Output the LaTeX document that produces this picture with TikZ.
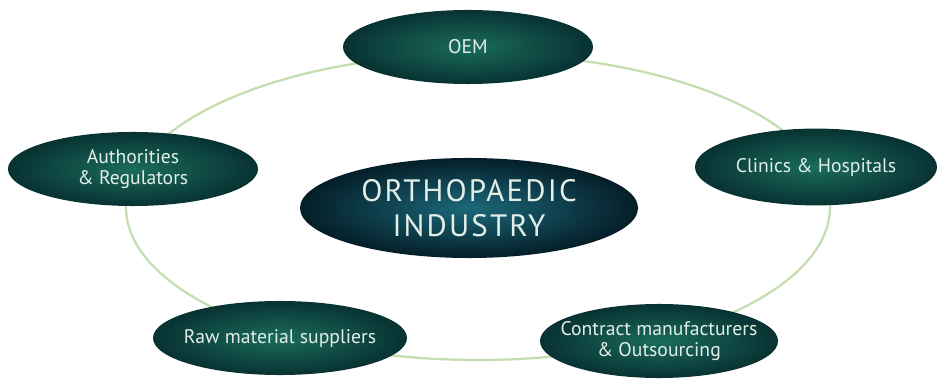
\documentclass[tikz,border=0pt]{standalone}
\usepackage{fontspec}
\setmainfont{PT Sans}
\usetikzlibrary{shapes}
\definecolor{ringgreen}{RGB}{196,222,176}
\definecolor{tealdark}{RGB}{8,50,50}
\definecolor{teallight}{RGB}{26,108,92}
\definecolor{bluedark}{RGB}{4,30,40}
\definecolor{bluelight}{RGB}{28,104,122}
\definecolor{textpale}{RGB}{226,238,232}
\tikzset{
    ring/.style = {draw=ringgreen, line width=1.6pt},
    spoke/.style = {ellipse, inner xsep=-2.5cm, inner ysep=-0.4cm, shading=radial, inner color=teallight,
                    outer color=tealdark, minimum width=6.2cm, minimum height=1.85cm, align=center,
                    text=textpale, font=\fontsize{14}{15}\selectfont},
    hub/.style = {ellipse, inner xsep=-3cm, inner ysep=-0.6cm, shading=radial, inner color=bluelight,
                  outer color=bluedark, minimum width=8.45cm, minimum height=2.5cm, align=center,
                  text=textpale, font=\fontsize{22}{25}\selectfont\addfontfeature{LetterSpace=7}}
}

\begin{document}
\begin{tikzpicture}[x=0.025cm, y=-0.025cm]
\useasboundingbox (0,0) rectangle (938,379);
% ring behind everything
\draw[ring] (478,207) ellipse [x radius=352, y radius=153];
%
\node[spoke, minimum width=6.25cm] at (468, 47) (oem) {OEM};
\node[spoke, minimum width=6.25cm] at (133,169) (auth) {Authorities\\\& Regulators};
\node[spoke, minimum width=6.05cm, minimum height=1.92cm] at (816,167) (clinic) {Clinics \& Hospitals};
\node[hub] at (469,208) (hub) {ORTHOPAEDIC\\INDUSTRY};
\node[spoke, minimum width=6.35cm] at (280,338) (raw) {Raw material suppliers};
\node[spoke, minimum width=5.95cm] at (659,341) (contract) {Contract manufacturers\\\& Outsourcing};
\end{tikzpicture}
\end{document}
